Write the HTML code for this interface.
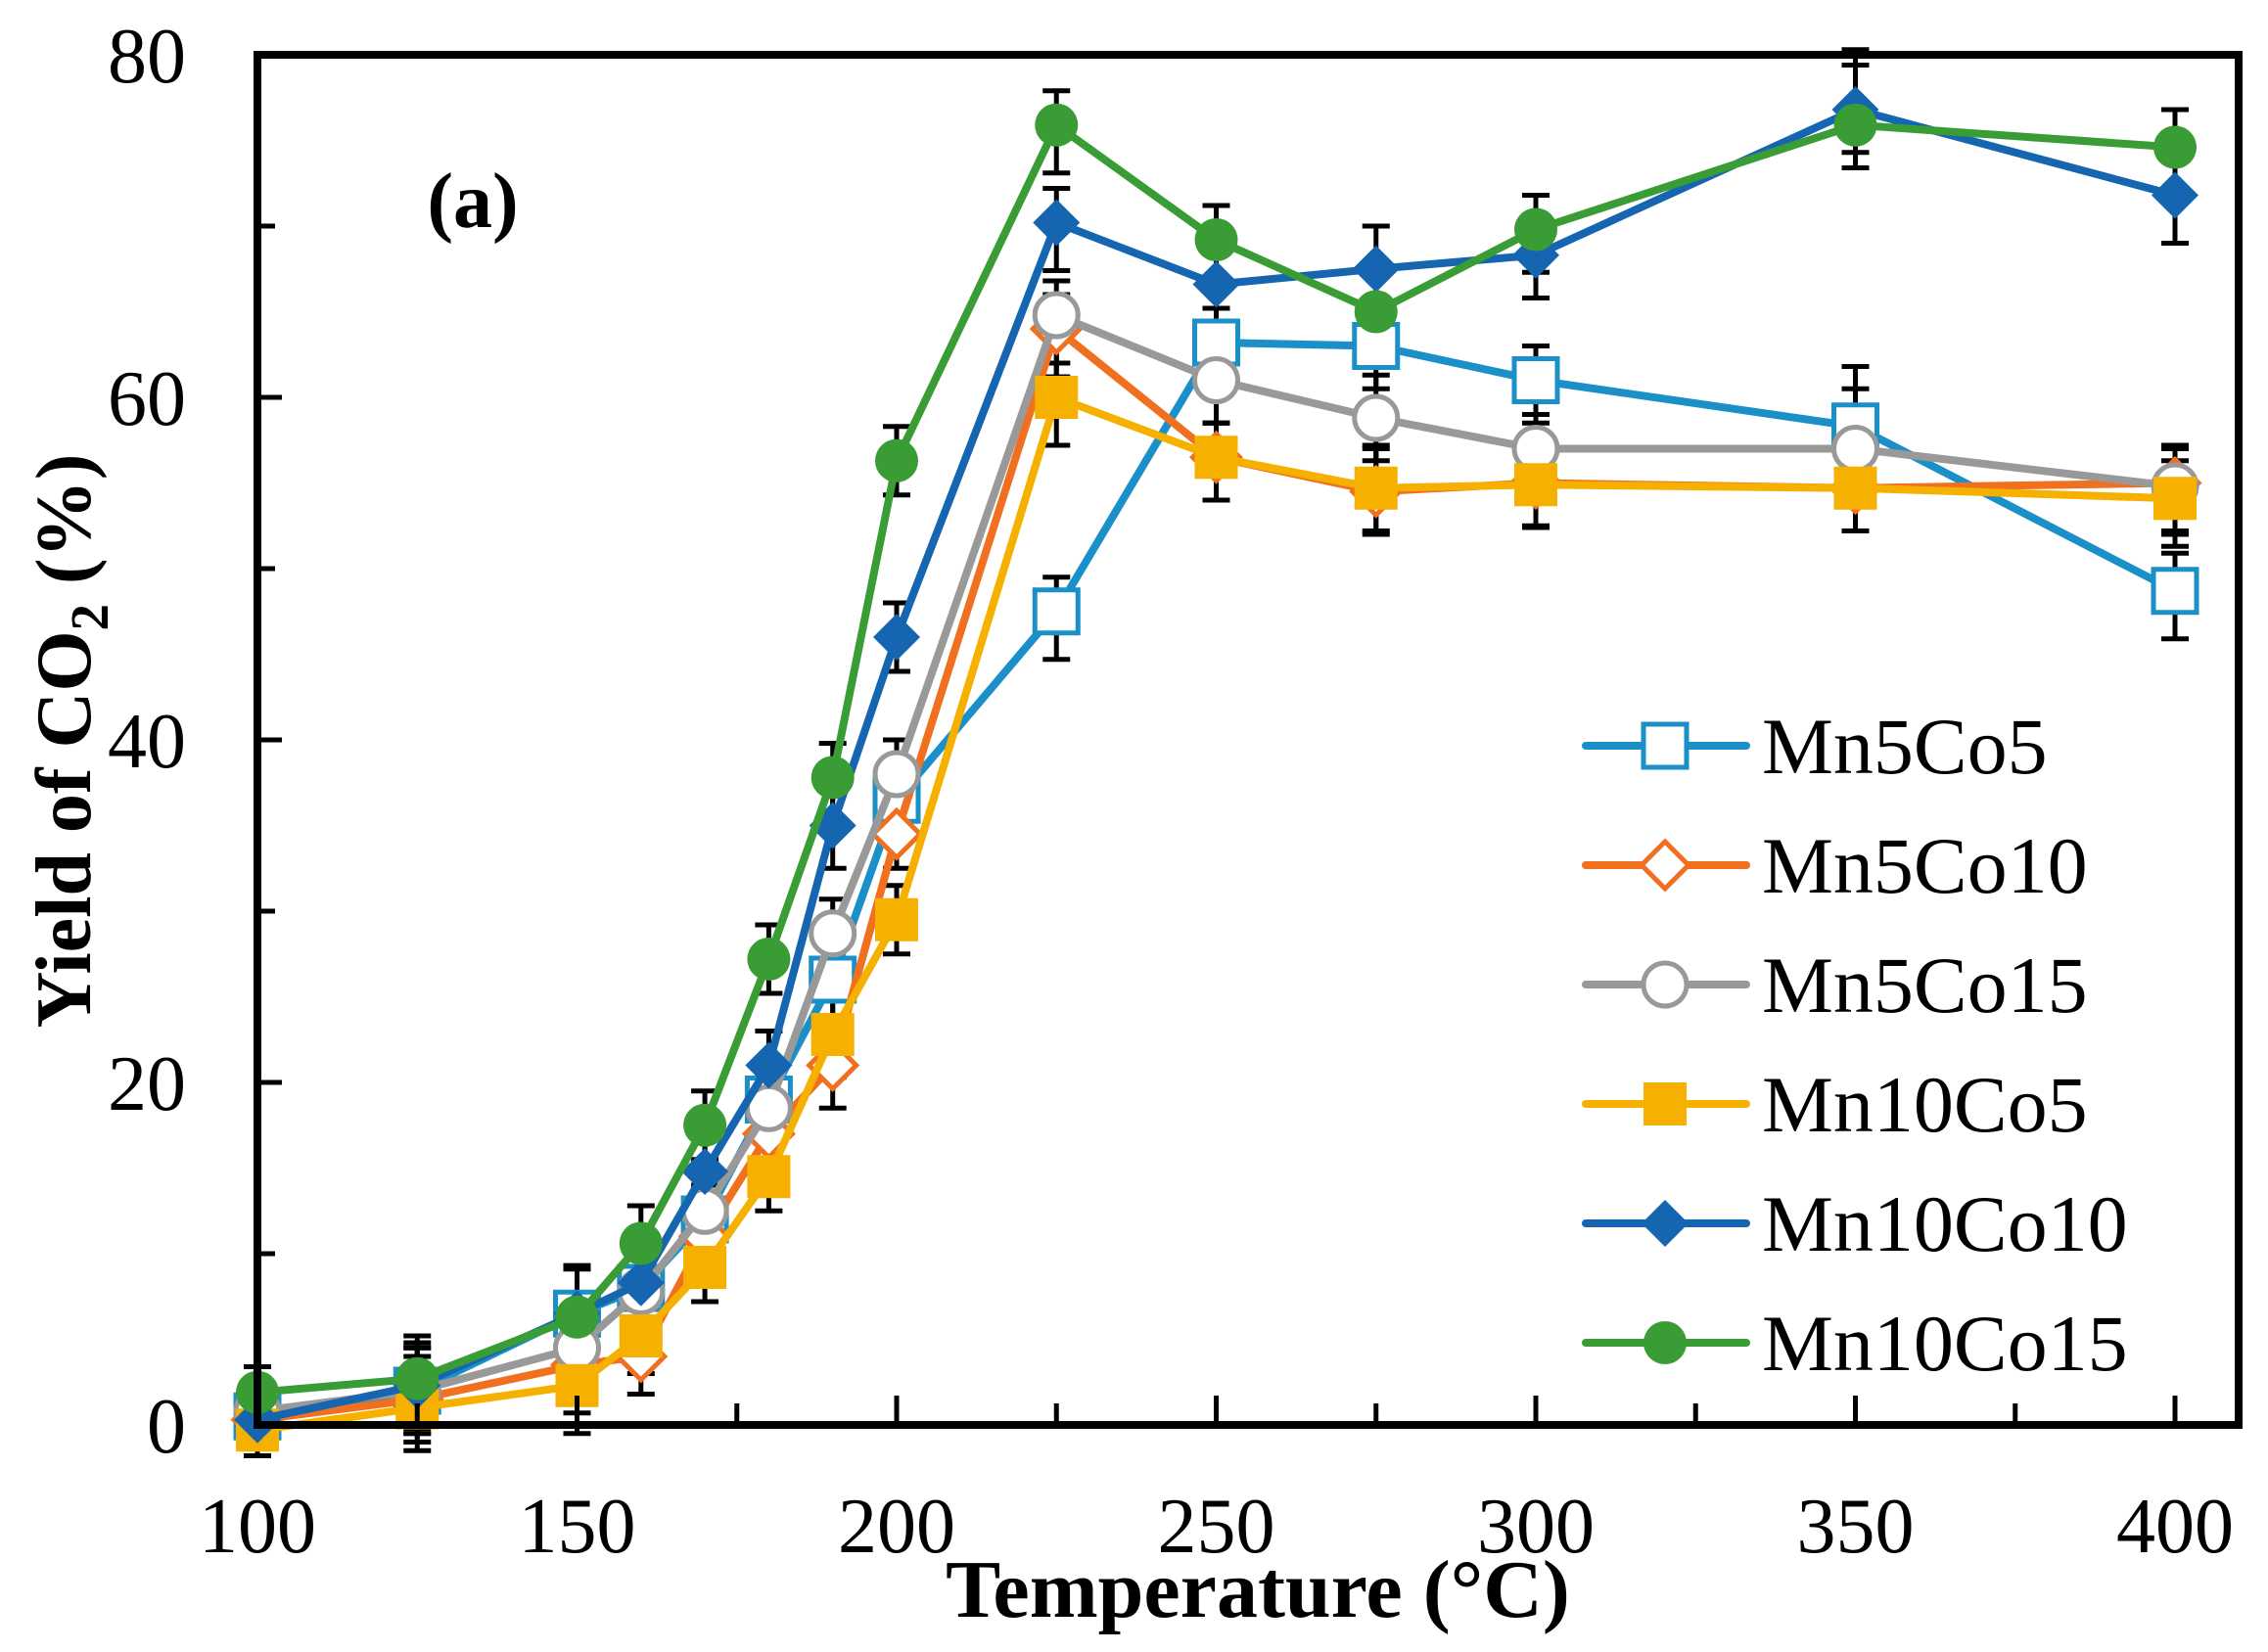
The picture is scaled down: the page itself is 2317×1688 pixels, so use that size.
<!DOCTYPE html>
<html><head><meta charset="utf-8"><style>
html,body{margin:0;padding:0;background:#fff;}
svg{display:block;font-family:"Liberation Serif",serif;}
</style></head><body>
<svg id="chart" width="2317" height="1688" viewBox="0 0 2317 1688" xmlns="http://www.w3.org/2000/svg">
<g id="grid-layer"></g>
<g id="series-layer"></g>
<g id="axes-layer"></g>
<g id="legend-layer"></g>
</svg>
<script>
const temps = [100,125,150,160,170,180,190,200,225,250,275,300,350,400];
const seriesNames = ["Mn5Co5","Mn5Co10","Mn5Co15","Mn10Co5","Mn10Co10","Mn10Co15"];
const mn5co5 = [0.5,2,6.5,8,12,19,26,36.5,47.5,63.2,63,61,58.3,48.7];
const mn5co10 = [0.3,1.5,3.5,4,11,17,21,34.5,64,56.5,54.5,55,54.7,55];
const mn5co15 = [0.8,2,4.5,7.8,12.5,18.5,28.7,38,64.8,61,58.8,57,57,54.8];
const mn10co5 = [-0.3,1,2.3,5.2,9.2,14.5,22.8,29.5,60,56.5,54.7,54.9,54.7,54.1];
const mn10co10 = [0.3,2.3,6.5,8.3,14.8,21,35,46,70.2,66.6,67.5,68.3,76.8,71.8];
const mn10co15 = [1.9,2.7,6.3,10.6,17.5,27.2,37.8,56.3,75.9,69.2,65,69.8,75.9,74.6];
const errLow = [1.5,2.5,2.8,2.2,2.0,2.0,2.5,2.0,2.8,2.5,2.5,2.5,2.5,2.8];
const errHigh = [1.5,2.5,2.8,2.2,2.0,2.0,2.0,2.0,2.0,2.0,2.5,2.0,3.5,2.2];
const xTicks = [100,150,200,250,300,350,400];
const yTicks = [0,20,40,60,80];

const colors = ["#1a8fc8","#f07020","#999999","#f5b000","#1565b0","#3a9c35"];
const markers = ["squareOpen","diamondOpen","circleOpen","square","diamond","circle"];
const allData = [mn5co5,mn5co10,mn5co15,mn10co5,mn10co10,mn10co15];

const NS="http://www.w3.org/2000/svg";
const L=263,R=2287,T=56,B=1456;
function xs(v){return 263+(v-100)*6.53;}
function ys(v){return B-(v/80)*(B-T);}
function mk(tag,attrs,parent){const e=document.createElementNS(NS,tag);for(const k in attrs)e.setAttribute(k,attrs[k]);parent.appendChild(e);return e;}
const sl=document.getElementById('series-layer');
const al=document.getElementById('axes-layer');
const ll=document.getElementById('legend-layer');

function marker(type,cx,cy,col,parent){
  const s=22;let e;
  if(type==="squareOpen"||type==="square"){
    e=mk('rect',{x:cx-s,y:cy-s,width:2*s,height:2*s},parent);
  }else if(type==="diamondOpen"||type==="diamond"){
    const d=s+2;
    e=mk('polygon',{points:`${cx},${cy-d} ${cx+d},${cy} ${cx},${cy+d} ${cx-d},${cy}`},parent);
  }else{
    e=mk('circle',{cx:cx,cy:cy,r:s},parent);
  }
  if(type.endsWith("Open")){e.setAttribute('fill','#fff');e.setAttribute('stroke',col);e.setAttribute('stroke-width','5');}
  else{e.setAttribute('fill',col);}
  return e;
}

allData.forEach((d,si)=>{
  const g=mk('g',{},sl);
  
  
  d.forEach((v,i)=>{
    const x=xs(temps[i]),y1=ys(v+errHigh[i]),y2=ys(v-errLow[i]);
    mk('line',{x1:x,x2:x,y1:y1,y2:y2,stroke:'#000','stroke-width':5},g);
    mk('line',{x1:x-14,x2:x+14,y1:y1,y2:y1,stroke:'#000','stroke-width':5},g);
    mk('line',{x1:x-14,x2:x+14,y1:y2,y2:y2,stroke:'#000','stroke-width':5},g);
  });
});
allData.forEach((d,si)=>{
  const g=mk('g',{},sl);
  
  
  const pts=d.map((v,i)=>xs(temps[i])+','+ys(v)).join(' ');
  const pl=mk('polyline',{points:pts,fill:'none',stroke:colors[si],'stroke-width':8,'stroke-linejoin':'round'},g);
  
  
  d.forEach((v,i)=>{
    const m=marker(markers[si],xs(temps[i]),ys(v),colors[si],g);
    
    
  });
});

const fr=mk('rect',{x:L,y:T,width:R-L,height:B-T,fill:'none',stroke:'#000','stroke-width':8},al);


for(let v=125;v<=400;v+=25){
  const major=v%50===0;
  const t=mk('line',{x1:xs(v),x2:xs(v),y1:B,y2:B-(major?30:22),stroke:'#000','stroke-width':5},al);
  
  
}
xTicks.forEach(v=>{
  const t=mk('text',{x:xs(v),y:1586,'text-anchor':'middle','font-size':80},al);
  t.textContent=v;
  
  
});
for(let v=10;v<80;v+=10){
  const major=v%20===0;
  const t=mk('line',{x1:L,x2:L+(major?25:18),y1:ys(v),y2:ys(v),stroke:'#000','stroke-width':5},al);
  
  
}
yTicks.forEach(v=>{
  const t=mk('text',{x:190,y:ys(v)+28,'text-anchor':'end','font-size':80},al);
  t.textContent=v;
  
  
});
const xt=mk('text',{x:1285,y:1652,'text-anchor':'middle','font-size':84,'font-weight':'bold'},al);
xt.textContent='Temperature (°C)';


const yt=mk('text',{transform:'translate(92,757) rotate(-90)','text-anchor':'middle','font-size':80,'font-weight':'bold'},al);
yt.innerHTML='Yield of CO<tspan font-size="55" dy="18">2</tspan><tspan dy="-18"> (%)</tspan>';


const pa=mk('text',{x:483,y:232,'text-anchor':'middle','font-size':80,'font-weight':'bold'},al);
pa.textContent='(a)';



seriesNames.forEach((n,si)=>{
  const y=762+si*122;
  const g=mk('g',{},ll);
  
  
  mk('line',{x1:1620,x2:1784,y1:y,y2:y,stroke:colors[si],'stroke-width':8,'stroke-linecap':'round'},g);
  marker(markers[si],1701,y,colors[si],g);
  const t=mk('text',{x:1800,y:y+28,'font-size':82},g);
  t.textContent=n;
});
</script>
</body></html>
